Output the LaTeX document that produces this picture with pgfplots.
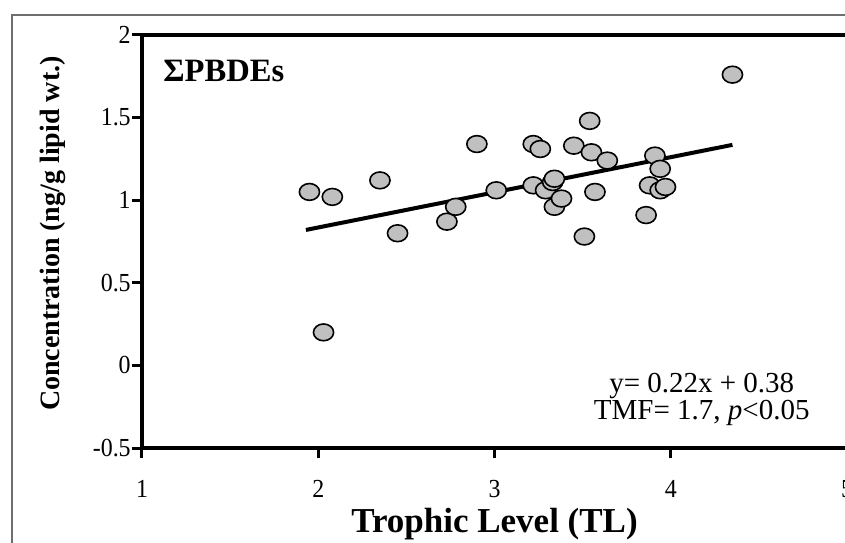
\documentclass[border=0pt]{standalone}
\usepackage{fontspec}
\setmainfont{Liberation Serif}
\usepackage{pgfplots}
\pgfplotsset{compat=1.18}
\definecolor{markgray}{RGB}{192,192,192}
\definecolor{framegray}{RGB}{110,110,110}
\begin{document}
\begin{tikzpicture}[x=1pt,y=1pt]
\useasboundingbox (-71,-47) rectangle (351.5,224);
\clip (-71,-47) rectangle (351.5,224);
\fill[white] (-71,-47) rectangle (351.5,224);
\draw[framegray, line width=0.6pt] (-65,-60) -- (-65,216.5) -- (400,216.5);
\begin{axis}[
  at={(0pt,0pt)}, anchor=south west,
  x=88.125pt, y=82.6pt,
  xmin=1, xmax=5, ymin=-0.5, ymax=2,
  xtick={1,2,3,4,5}, xticklabels={1,2,3,4,5},
  ytick={-0.5,0,0.5,1,1.5,2}, yticklabels={-0.5,0,0.5,1,1.5,2},
  tick pos=left, tick align=outside,
  major tick length=5pt,
  tick style={black, line width=1.5pt},
  axis line style={black, line width=2pt},
  /pgf/number format/assume math mode=true,
  tick label style={font=\fontsize{13}{15}\selectfont, inner sep=0pt, xscale=0.92},
  yticklabel style={xshift=-0.5pt},
  xticklabel style={yshift=-11pt},
  xlabel={Trophic Level (TL)},
  xlabel style={font=\bfseries\fontsize{17.5}{19}\selectfont, at={(axis description cs:0.5,-0.2034)}, anchor=base},
  ylabel={Concentration (ng/g lipid wt.)},
  ylabel style={font=\bfseries\fontsize{14}{16}\selectfont, at={(axis description cs:-0.1177,0.519)}, anchor=base},
]
\addplot[only marks, mark=*, mark size=4.2pt, mark options={fill=markgray, draw=black, line width=0.8pt, xscale=1.2}] coordinates {
(1.95,1.05) (2.03,0.20) (2.08,1.02) (2.35,1.12) (2.45,0.80)
(2.73,0.87) (2.78,0.96) (2.90,1.34) (3.01,1.06) (3.22,1.34)
(3.26,1.31) (3.22,1.09) (3.29,1.06) (3.33,1.11) (3.34,1.13)
(3.34,0.96) (3.38,1.01) (3.45,1.33) (3.51,0.78) (3.54,1.48)
(3.55,1.29) (3.57,1.05) (3.64,1.24) (3.86,0.91) (3.88,1.09)
(3.91,1.27) (3.94,1.19) (3.94,1.06) (3.97,1.08) (4.35,1.76)
};
\addplot[black, line width=2pt, no marks] coordinates {(1.93,0.82) (4.35,1.335)};
\node[font=\bfseries\fontsize{16.3}{18}\selectfont, inner sep=0pt, anchor=base west] at (axis description cs:0.0298,0.8886) {ΣPBDEs};
\node[font=\fontsize{14.5}{16}\selectfont, inner sep=0pt, anchor=base] at (axis description cs:0.794,0.1356) {y= 0.22x + 0.38};
\node[font=\fontsize{14.5}{16}\selectfont, inner sep=0pt, anchor=base] at (axis description cs:0.794,0.0702) {TMF= 1.7, \textit{p}<0.05};
\end{axis}
\end{tikzpicture}
\end{document}
